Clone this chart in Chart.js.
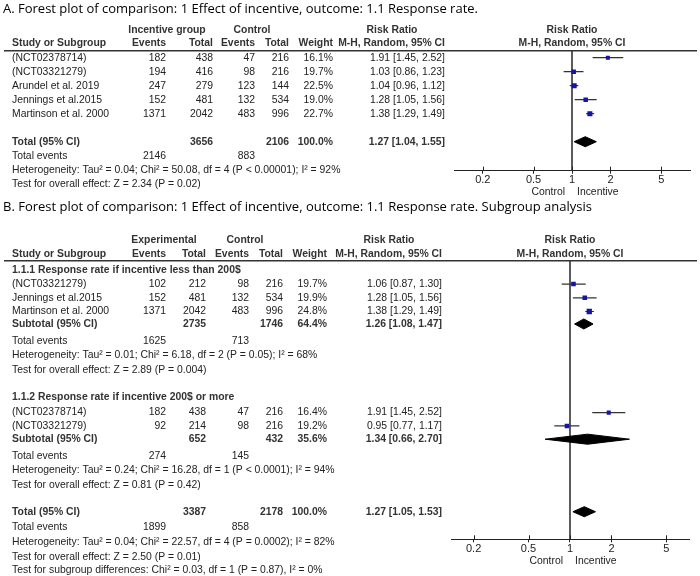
<!DOCTYPE html>
<html>
<head>
<meta charset="utf-8">
<script src="https://cdn.jsdelivr.net/npm/chart.js@4.4.0/dist/chart.umd.min.js"></script>
<style>
  body { margin: 0; background: #fff; }
  #wrap { position: relative; width: 700px; height: 576px; }
  canvas { position: absolute; left: 0; top: 0; }
</style>
</head>
<body>
<div id="wrap">
  <canvas id="plotA" width="700" height="576"></canvas>
  <canvas id="plotB" width="700" height="576"></canvas>
</div>
<script>
// risk ratio axis ticks
const rrTicks = [0.2, 0.5, 1, 2, 5];

// A. all studies
const studiesA = ['(NCT02378714)', '(NCT03321279)', 'Arundel et al. 2019', 'Jennings et al.2015', 'Martinson et al. 2000'];
const incEventsA = [182, 194, 247, 152, 1371];
const incTotalA = [438, 416, 279, 481, 2042];
const ctlEventsA = [47, 98, 123, 132, 483];
const ctlTotalA = [216, 216, 144, 534, 996];
const weightA = [16.1, 19.7, 22.5, 19.0, 22.7];
const rrA = [1.91, 1.03, 1.04, 1.28, 1.38];
const lowA = [1.45, 0.86, 0.96, 1.05, 1.29];
const highA = [2.52, 1.23, 1.12, 1.56, 1.49];
const pooledA = [1.27, 1.04, 1.55];
const totalsA = [3656, 2106];
const eventsA = [2146, 883];

// B. subgroup 1.1.1 (less than 200$)
const studiesB1 = ['(NCT03321279)', 'Jennings et al.2015', 'Martinson et al. 2000'];
const incEventsB1 = [102, 152, 1371];
const incTotalB1 = [212, 481, 2042];
const ctlEventsB1 = [98, 132, 483];
const ctlTotalB1 = [216, 534, 996];
const weightB1 = [19.7, 19.9, 24.8];
const rrB1 = [1.06, 1.28, 1.38];
const lowB1 = [0.87, 1.05, 1.29];
const highB1 = [1.30, 1.56, 1.49];
const pooledB1 = [1.26, 1.08, 1.47];
const totalsB1 = [2735, 1746];
const eventsB1 = [1625, 713];
const subWeightB1 = 64.4;

// B. subgroup 1.1.2 (200$ or more)
const studiesB2 = ['(NCT02378714)', '(NCT03321279)'];
const incEventsB2 = [182, 92];
const incTotalB2 = [438, 214];
const ctlEventsB2 = [47, 98];
const ctlTotalB2 = [216, 216];
const weightB2 = [16.4, 19.2];
const rrB2 = [1.91, 0.95];
const lowB2 = [1.45, 0.77];
const highB2 = [2.52, 1.17];
const pooledB2 = [1.34, 0.66, 2.70];
const totalsB2 = [652, 432];
const eventsB2 = [274, 145];
const subWeightB2 = 35.6;

// B. overall
const pooledB = [1.27, 1.05, 1.53];
const totalsB = [3387, 2178];
const eventsB = [1899, 858];

// layout: row positions (in row units) and column x positions
const rowsA = { title: -3.45, head1: -2, head2: -1.03, studies: [0, 1, 2, 3, 4], total: 6, events: 7, het: 8, test: 9, dir: 9.57, top: -0.5, axis: 8.07 };
const rowsB = { title: -4.34, head1: -1.98, head2: -0.96, h1: 0.16, s1: [1.17, 2.15, 3.13], sub1: 4.02, ev1: 5.27, het1: 6.27, test1: 7.3,
  h2: 9.25, s2: [10.35, 11.3], sub2: 12.25, ev2: 13.45, het2: 14.45, test2: 15.5,
  total: 17.43, ev: 18.54, het: 19.57, test: 20.64, diff: 21.6, dir: 20.93, top: -0.5, axis: 19.4 };
const colsA = { name: 12, ie: 166, it: 213, ce: 255, ct: 289, w: 333, rr: 445, grp1: 167, grp2: 252, rrHead: 392 };
const colsB = { name: 12, ie: 166, it: 206, ce: 249, ct: 283, w: 327, rr: 442, grp1: 164, grp2: 245, rrHead: 389 };

const TXT = '10.4px "Liberation Sans", Arial, sans-serif';
const TITLE = '13px "Open Sans", sans-serif';

function put(items, text, x, row, align, bold, font) {
  items.push({ text: String(text), x: x, row: row, align: align || 'right', bold: !!bold, font: font || TXT });
}

function ci(rr, lo, hi) {
  return rr.toFixed(2) + ' [' + lo.toFixed(2) + ', ' + hi.toFixed(2) + ']';
}

function headers(items, c, rows, grp1) {
  put(items, grp1, c.grp1, rows.head1, 'center', true);
  put(items, 'Control', c.grp2, rows.head1, 'center', true);
  put(items, 'Risk Ratio', c.rrHead, rows.head1, 'center', true);
  put(items, 'Study or Subgroup', c.name, rows.head2, 'left', true);
  put(items, 'Events', c.ie, rows.head2, 'right', true);
  put(items, 'Total', c.it, rows.head2, 'right', true);
  put(items, 'Events', c.ce, rows.head2, 'right', true);
  put(items, 'Total', c.ct, rows.head2, 'right', true);
  put(items, 'Weight', c.w, rows.head2, 'right', true);
  put(items, 'M-H, Random, 95% CI', c.rr, rows.head2, 'right', true);
}

function studyRows(items, c, rowList, names, ie, it, ce, ct, w, rr, lo, hi) {
  names.forEach(function (n, i) {
    const r = rowList[i];
    put(items, n, c.name, r, 'left');
    put(items, ie[i], c.ie, r);
    put(items, it[i], c.it, r);
    put(items, ce[i], c.ce, r);
    put(items, ct[i], c.ct, r);
    put(items, w[i].toFixed(1) + '%', c.w, r);
    put(items, ci(rr[i], lo[i], hi[i]), c.rr, r);
  });
}

function summary(items, c, label, row, totals, weight, pooled, evRow, events) {
  put(items, label, c.name, row, 'left', true);
  put(items, totals[0], c.it, row, 'right', true);
  put(items, totals[1], c.ct, row, 'right', true);
  put(items, weight.toFixed(1) + '%', c.w, row, 'right', true);
  put(items, ci(pooled[0], pooled[1], pooled[2]), c.rr, row, 'right', true);
  put(items, 'Total events', c.name, evRow, 'left');
  put(items, events[0], c.ie, evRow);
  put(items, events[1], c.ce, evRow);
}

// text for panel A
const itemsA = [];
put(itemsA, 'A. Forest plot of comparison: 1 Effect of incentive, outcome: 1.1 Response rate.', 3, rowsA.title, 'left', false, TITLE);
headers(itemsA, colsA, rowsA, 'Incentive group');
studyRows(itemsA, colsA, rowsA.studies, studiesA, incEventsA, incTotalA, ctlEventsA, ctlTotalA, weightA, rrA, lowA, highA);
summary(itemsA, colsA, 'Total (95% CI)', rowsA.total, totalsA, 100, pooledA, rowsA.events, eventsA);
put(itemsA, 'Heterogeneity: Tau\u00b2 = 0.04; Chi\u00b2 = 50.08, df = 4 (P < 0.00001); I\u00b2 = 92%', colsA.name, rowsA.het, 'left');
put(itemsA, 'Test for overall effect: Z = 2.34 (P = 0.02)', colsA.name, rowsA.test, 'left');

// text for panel B
const itemsB = [];
put(itemsB, 'B. Forest plot of comparison: 1 Effect of incentive, outcome: 1.1 Response rate. Subgroup analysis', 3, rowsB.title, 'left', false, TITLE);
headers(itemsB, colsB, rowsB, 'Experimental');
put(itemsB, '1.1.1 Response rate if incentive less than 200$', colsB.name, rowsB.h1, 'left', true);
studyRows(itemsB, colsB, rowsB.s1, studiesB1, incEventsB1, incTotalB1, ctlEventsB1, ctlTotalB1, weightB1, rrB1, lowB1, highB1);
summary(itemsB, colsB, 'Subtotal (95% CI)', rowsB.sub1, totalsB1, subWeightB1, pooledB1, rowsB.ev1, eventsB1);
put(itemsB, 'Heterogeneity: Tau\u00b2 = 0.01; Chi\u00b2 = 6.18, df = 2 (P = 0.05); I\u00b2 = 68%', colsB.name, rowsB.het1, 'left');
put(itemsB, 'Test for overall effect: Z = 2.89 (P = 0.004)', colsB.name, rowsB.test1, 'left');
put(itemsB, '1.1.2 Response rate if incentive 200$ or more', colsB.name, rowsB.h2, 'left', true);
studyRows(itemsB, colsB, rowsB.s2, studiesB2, incEventsB2, incTotalB2, ctlEventsB2, ctlTotalB2, weightB2, rrB2, lowB2, highB2);
summary(itemsB, colsB, 'Subtotal (95% CI)', rowsB.sub2, totalsB2, subWeightB2, pooledB2, rowsB.ev2, eventsB2);
put(itemsB, 'Heterogeneity: Tau\u00b2 = 0.24; Chi\u00b2 = 16.28, df = 1 (P < 0.0001); I\u00b2 = 94%', colsB.name, rowsB.het2, 'left');
put(itemsB, 'Test for overall effect: Z = 0.81 (P = 0.42)', colsB.name, rowsB.test2, 'left');
summary(itemsB, colsB, 'Total (95% CI)', rowsB.total, totalsB, 100, pooledB, rowsB.ev, eventsB);
put(itemsB, 'Heterogeneity: Tau\u00b2 = 0.04; Chi\u00b2 = 22.57, df = 4 (P = 0.0002); I\u00b2 = 82%', colsB.name, rowsB.het, 'left');
put(itemsB, 'Test for overall effect: Z = 2.50 (P = 0.01)', colsB.name, rowsB.test, 'left');
put(itemsB, 'Test for subgroup differences: Chi\u00b2 = 0.03, df = 1 (P = 0.87), I\u00b2 = 0%', colsB.name, rowsB.diff, 'left');

function tablePlugin(items, rows) {
  return {
    id: 'table',
    afterDraw(chart) {
      const ctx = chart.ctx;
      const ys = chart.scales.y;
      const xs = chart.scales.x;
      const area = chart.chartArea;
      ctx.save();
      ctx.textBaseline = 'middle';
      items.forEach(function (t) {
        ctx.font = (t.bold ? 'bold ' : '') + t.font;
        ctx.fillStyle = t.font === TITLE ? '#000' : (t.bold ? '#333' : '#222');
        ctx.textAlign = t.align;
        ctx.fillText(t.text, t.x, ys.getPixelForValue(t.row));
      });
      // header rule
      ctx.strokeStyle = '#333';
      ctx.lineWidth = 1.5;
      ctx.beginPath();
      ctx.moveTo(4, area.top);
      ctx.lineTo(697, area.top);
      ctx.stroke();
      // tick marks also reach a little above the axis line
      ctx.strokeStyle = '#222';
      ctx.lineWidth = 1;
      xs.ticks.forEach(function (t) {
        const px = Math.round(xs.getPixelForValue(t.value)) + 0.5;
        ctx.beginPath();
        ctx.moveTo(px, area.bottom - 4);
        ctx.lineTo(px, area.bottom);
        ctx.stroke();
      });
      // column headers over the plot, and favours labels
      const one = xs.getPixelForValue(1);
      ctx.font = 'bold ' + TXT;
      ctx.fillStyle = '#333';
      ctx.textAlign = 'center';
      ctx.fillText('Risk Ratio', one, ys.getPixelForValue(rows.head1));
      ctx.fillText('M-H, Random, 95% CI', one, ys.getPixelForValue(rows.head2));
      ctx.font = TXT;
      ctx.fillStyle = '#222';
      ctx.textAlign = 'right';
      ctx.fillText('Control', one - 7, ys.getPixelForValue(rows.dir));
      ctx.textAlign = 'left';
      ctx.fillText('Incentive', one + 5, ys.getPixelForValue(rows.dir));
      ctx.restore();
    }
  };
}

function forestSets(groups, pooled, rows) {
  const ds = [];
  // line of no effect
  ds.push({ data: [{ x: 1, y: rows.top }, { x: 1, y: rows.axis }], showLine: true, borderColor: '#444', borderWidth: 1, pointRadius: 0, order: 3 });
  groups.forEach(function (g) {
    g.rr.forEach(function (v, i) {
      ds.push({ data: [{ x: g.lo[i], y: g.rows[i] }, { x: g.hi[i], y: g.rows[i] }], showLine: true, borderColor: '#333', borderWidth: 1.2, pointRadius: 0, order: 2 });
    });
    // square side grows with the study weight
    ds.push({
      data: g.rr.map(function (v, i) { return { x: v, y: g.rows[i] }; }),
      pointStyle: 'rect',
      pointRadius: g.w.map(function (s) { return (1.6 + 0.15 * s) / Math.SQRT2; }),
      backgroundColor: '#1414a6', borderColor: '#1414a6', borderWidth: 0, order: 1
    });
  });
  pooled.forEach(function (p) {
    const m = p.v[0], l = p.v[1], h = p.v[2], r = p.row;
    ds.push({
      data: [{ x: l, y: r }, { x: m, y: r - 0.36 }, { x: h, y: r }, { x: m, y: r + 0.36 }, { x: l, y: r }],
      showLine: true, fill: 'shape', backgroundColor: '#000', borderColor: '#000', borderWidth: 1, pointRadius: 0, tension: 0, order: 0
    });
  });
  return ds;
}

function makeChart(id, datasets, rows, range, pad, items) {
  return new Chart(document.getElementById(id), {
    type: 'scatter',
    data: { datasets: datasets },
    options: {
      responsive: false,
      animation: false,
      events: [],
      layout: { padding: pad },
      plugins: { legend: { display: false }, tooltip: { enabled: false } },
      scales: {
        x: {
          type: 'logarithmic', min: range[0], max: range[1],
          afterBuildTicks: function (s) { s.ticks = rrTicks.map(function (v) { return { value: v }; }); },
          afterFit: function (s) { s.height = 30; },
          ticks: { autoSkip: false, maxRotation: 0, padding: 0, color: '#222', font: { family: '"Liberation Sans", Arial, sans-serif', size: 11 },
            callback: function (v) { return String(v); } },
          grid: { drawOnChartArea: false, drawTicks: true, tickLength: 3, color: '#222' },
          border: { display: true, color: '#222', width: 1 }
        },
        y: { type: 'linear', display: false, reverse: true, min: rows.top, max: rows.axis }
      }
    },
    plugins: [tablePlugin(items, rows)]
  });
}

makeChart('plotA',
  forestSets([{ rr: rrA, lo: lowA, hi: highA, w: weightA, rows: rowsA.studies }], [{ v: pooledA, row: rowsA.total }], rowsA),
  rowsA, [0.119, 8.4], { left: 454, right: 10, top: 50.7, bottom: 576 - 170.7 - 30 }, itemsA);

makeChart('plotB',
  forestSets([
    { rr: rrB1, lo: lowB1, hi: highB1, w: weightB1, rows: rowsB.s1 },
    { rr: rrB2, lo: lowB2, hi: highB2, w: weightB2, rows: rowsB.s2 }
  ], [{ v: pooledB1, row: rowsB.sub1 }, { v: pooledB2, row: rowsB.sub2 }, { v: pooledB, row: rowsB.total }], rowsB),
  rowsB, [0.137, 7.3], { left: 451, right: 11, top: 260.7, bottom: 576 - 539.3 - 30 }, itemsB);
</script>
</body>
</html>
